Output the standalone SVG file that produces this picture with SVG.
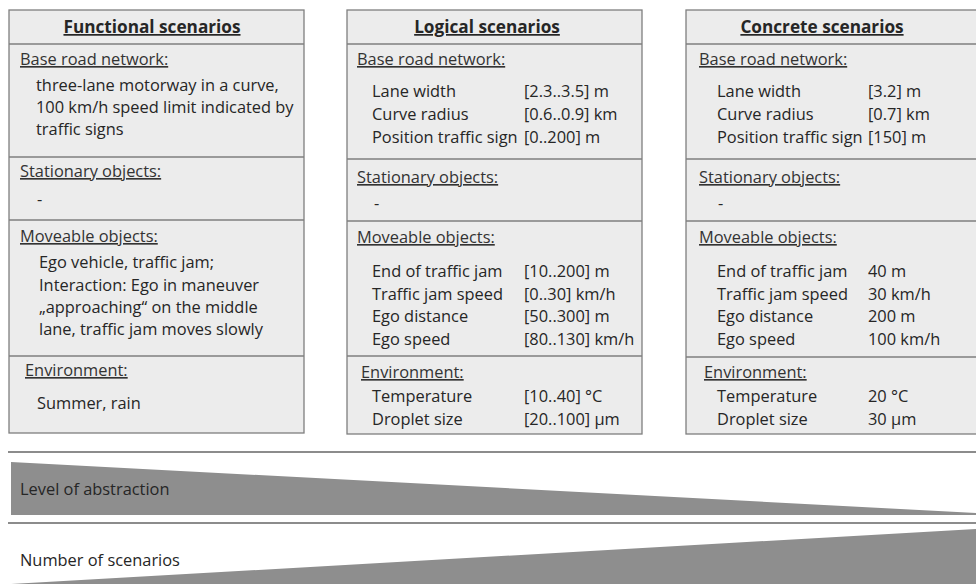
<svg xmlns="http://www.w3.org/2000/svg" width="976" height="584" viewBox="0 0 976 584">
<style>
.box{fill:#ececec;stroke:#7f7f7f;stroke-width:1.3}
.div{stroke:#7f7f7f;stroke-width:1.3}
text{font-family:"Open Sans",Lato,sans-serif;font-size:16.4px;fill:#262626}
.t{font-size:17.2px;font-weight:bold;text-anchor:middle;text-decoration:underline}
.h{text-decoration:underline;fill:#333}
.sep{stroke:#8c8c8c;stroke-width:2}
.tri{fill:#8e8e8e}
</style>
<rect width="976" height="584" fill="#ffffff"/>
<g id="functional">
<rect class="box" x="9" y="10" width="295" height="423"/>
<line class="div" x1="9" y1="44" x2="304" y2="44"/>
<line class="div" x1="9" y1="157" x2="304" y2="157"/>
<line class="div" x1="9" y1="220" x2="304" y2="220"/>
<line class="div" x1="9" y1="356" x2="304" y2="356"/>
<text class="t" x="152" y="33">Functional scenarios</text>
<text class="h" x="20" y="65">Base road network:</text>
<text x="36" y="91">three-lane motorway in a curve,</text>
<text x="36" y="113">100 km/h speed limit indicated by</text>
<text x="36" y="135">traffic signs</text>
<text class="h" x="20" y="177">Stationary objects:</text>
<text x="37" y="205">-</text>
<text class="h" x="20" y="242">Moveable objects:</text>
<text x="39" y="268">Ego vehicle, traffic jam;</text>
<text x="39" y="291">Interaction: Ego in maneuver</text>
<text x="39" y="313">„approaching“ on the middle</text>
<text x="39" y="335">lane, traffic jam moves slowly</text>
<text class="h" x="25" y="376">Environment:</text>
<text x="37" y="409">Summer, rain</text>
</g>
<g id="logical">
<rect class="box" x="347" y="10" width="295" height="424"/>
<line class="div" x1="347" y1="44" x2="642" y2="44"/>
<line class="div" x1="347" y1="159" x2="642" y2="159"/>
<line class="div" x1="347" y1="221" x2="642" y2="221"/>
<line class="div" x1="347" y1="356" x2="642" y2="356"/>
<text class="t" x="487" y="33">Logical scenarios</text>
<text class="h" x="357" y="65">Base road network:</text>
<text x="372" y="97">Lane width</text><text x="524" y="97">[2.3..3.5] m</text>
<text x="372" y="120">Curve radius</text><text x="524" y="120">[0.6..0.9] km</text>
<text x="372" y="143">Position traffic sign</text><text x="524" y="143">[0..200] m</text>
<text class="h" x="357" y="183">Stationary objects:</text>
<text x="374" y="209">-</text>
<text class="h" x="357" y="243">Moveable objects:</text>
<text x="372" y="277">End of traffic jam</text><text x="524" y="277">[10..200] m</text>
<text x="372" y="300">Traffic jam speed</text><text x="524" y="300">[0..30] km/h</text>
<text x="372" y="322">Ego distance</text><text x="524" y="322">[50..300] m</text>
<text x="372" y="345">Ego speed</text><text x="524" y="345">[80..130] km/h</text>
<text class="h" x="361" y="378">Environment:</text>
<text x="372" y="402">Temperature</text><text x="524" y="402">[10..40] °C</text>
<text x="372" y="425">Droplet size</text><text x="524" y="425">[20..100] µm</text>
</g>
<g id="concrete">
<rect class="box" x="686" y="10" width="300" height="424"/>
<line class="div" x1="686" y1="44" x2="986" y2="44"/>
<line class="div" x1="686" y1="159" x2="986" y2="159"/>
<line class="div" x1="686" y1="221" x2="986" y2="221"/>
<line class="div" x1="686" y1="357" x2="986" y2="357"/>
<text class="t" x="822" y="33">Concrete scenarios</text>
<text class="h" x="699" y="65">Base road network:</text>
<text x="717" y="97">Lane width</text><text x="868" y="97">[3.2] m</text>
<text x="717" y="120">Curve radius</text><text x="868" y="120">[0.7] km</text>
<text x="717" y="143">Position traffic sign</text><text x="868" y="143">[150] m</text>
<text class="h" x="699" y="183">Stationary objects:</text>
<text x="718" y="209">-</text>
<text class="h" x="699" y="243">Moveable objects:</text>
<text x="717" y="277">End of traffic jam</text><text x="868" y="277">40 m</text>
<text x="717" y="300">Traffic jam speed</text><text x="868" y="300">30 km/h</text>
<text x="717" y="322">Ego distance</text><text x="868" y="322">200 m</text>
<text x="717" y="345">Ego speed</text><text x="868" y="345">100 km/h</text>
<text class="h" x="704" y="378">Environment:</text>
<text x="717" y="402">Temperature</text><text x="868" y="402">20 °C</text>
<text x="717" y="425">Droplet size</text><text x="868" y="425">30 µm</text>
</g>
<g id="abstraction">
<line class="sep" x1="8" y1="452" x2="976" y2="452"/>
<polygon class="tri" points="11,462 976,513 976,515 11,515"/>
<text x="20" y="495">Level of abstraction</text>
</g>
<g id="number">
<line class="sep" x1="8" y1="523" x2="976" y2="523"/>
<polygon class="tri" points="11,584 976,529 976,584"/>
<text x="20" y="566">Number of scenarios</text>
</g>
</svg>
